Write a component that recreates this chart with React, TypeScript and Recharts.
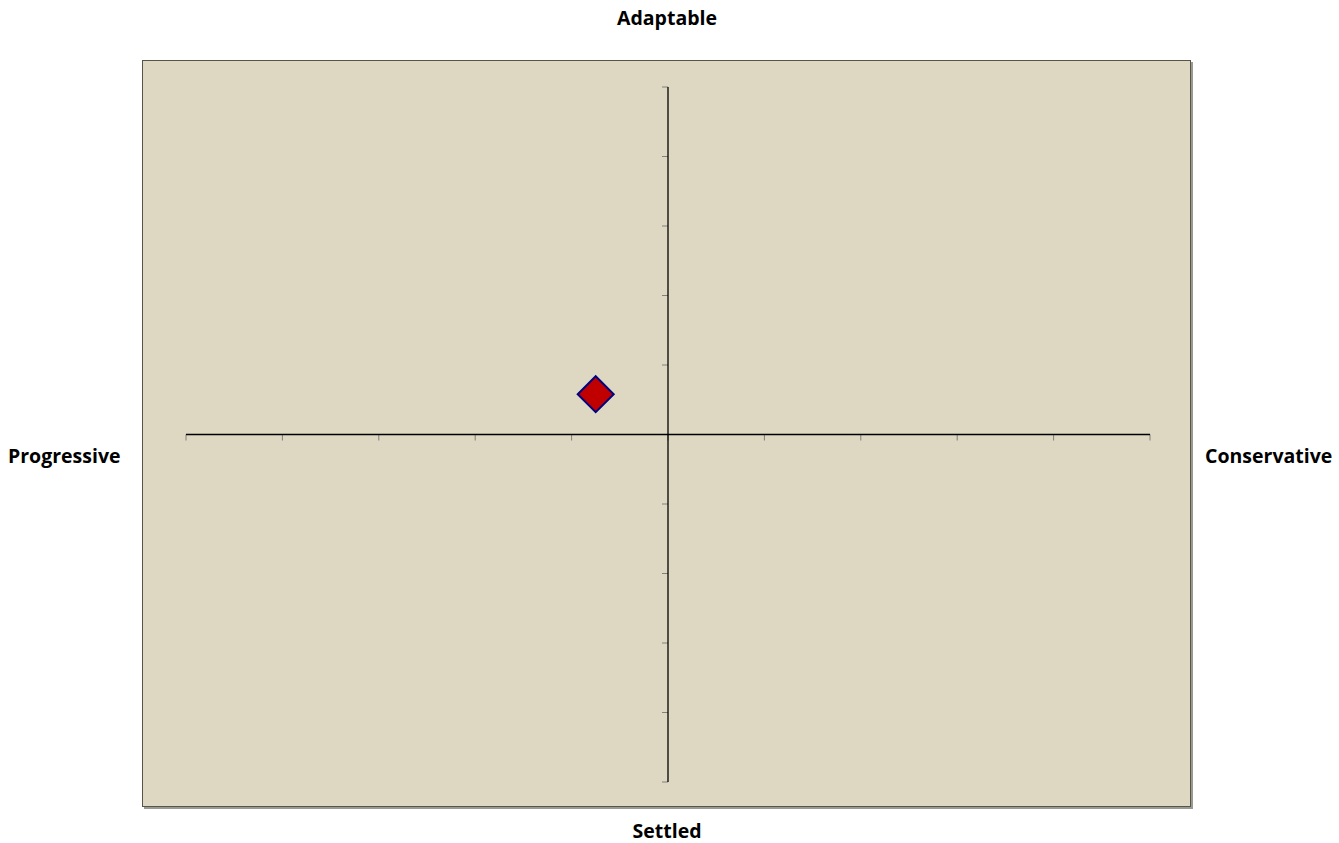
import React from 'react';
import { ScatterChart, Scatter, XAxis, YAxis, ReferenceLine } from 'recharts';

const xTicks = [-5, -4, -3, -2, -1, 0, 1, 2, 3, 4, 5];
const yTicks = [-5, -4, -3, -2, -1, 0, 1, 2, 3, 4, 5];
const points = [{ x: -0.75, y: 0.58 }];
const labels = { top: 'Adaptable', bottom: 'Settled', left: 'Progressive', right: 'Conservative' };

const W = 1339;
const H = 843;
const font = '"Open Sans", Lato, sans-serif';

// tick length in data units (px / px-per-unit)
const xTickLen = 6 / 69.5;
const yTickLen = 6 / 96.4;

function Diamond(props: any) {
  const { cx, cy } = props;
  const r = 18;
  return (
    <polygon
      points={`${cx},${cy - r} ${cx + r},${cy} ${cx},${cy + r} ${cx - r},${cy}`}
      fill="#C00000"
      stroke="#000080"
      strokeWidth={2}
    />
  );
}

const labelStyle: React.CSSProperties = {
  position: 'absolute',
  fontFamily: font,
  fontWeight: 700,
  fontSize: 19.5,
  color: '#000',
  lineHeight: '22px',
  whiteSpace: 'nowrap',
};

export default function App() {
  return (
    <div style={{ position: 'absolute', left: 0, top: 0, width: W, height: H, background: '#fff' }}>
      <div
        style={{
          position: 'absolute',
          left: 142,
          top: 60,
          width: 1047,
          height: 745,
          background: '#DED8C3',
          border: '1px solid #55554a',
          boxShadow: '2px 2px 0 #9a9a92',
        }}
      />
      <div style={{ position: 'absolute', left: 0, top: 0 }}>
        <ScatterChart width={W} height={H} margin={{ top: 87, bottom: 61, left: 186, right: 189 }}>
          <XAxis type="number" dataKey="x" domain={[-5, 5]} hide />
          <YAxis type="number" dataKey="y" domain={[-5, 5]} hide />
          {xTicks.map((t) => (
            <ReferenceLine
              key={'xt' + t}
              segment={[{ x: t, y: 0 }, { x: t, y: -xTickLen }]}
              stroke="#7f7f7f"
              strokeWidth={1}
              ifOverflow="visible"
            />
          ))}
          {yTicks.map((t) => (
            <ReferenceLine
              key={'yt' + t}
              segment={[{ x: 0, y: t }, { x: -yTickLen, y: t }]}
              stroke="#7f7f7f"
              strokeWidth={1}
              ifOverflow="visible"
            />
          ))}
          <ReferenceLine y={0} stroke="#000" strokeWidth={1.3} />
          <ReferenceLine x={0} stroke="#000" strokeWidth={1.3} />
          <Scatter data={points} shape={<Diamond />} isAnimationActive={false} />
        </ScatterChart>
      </div>
      <div style={{ ...labelStyle, left: 0, width: 1334, top: 7, textAlign: 'center' }}>{labels.top}</div>
      <div style={{ ...labelStyle, left: 0, width: 1334, top: 820, textAlign: 'center' }}>{labels.bottom}</div>
      <div style={{ ...labelStyle, left: 8, top: 445 }}>{labels.left}</div>
      <div style={{ ...labelStyle, left: 1205, top: 445 }}>{labels.right}</div>
    </div>
  );
}
